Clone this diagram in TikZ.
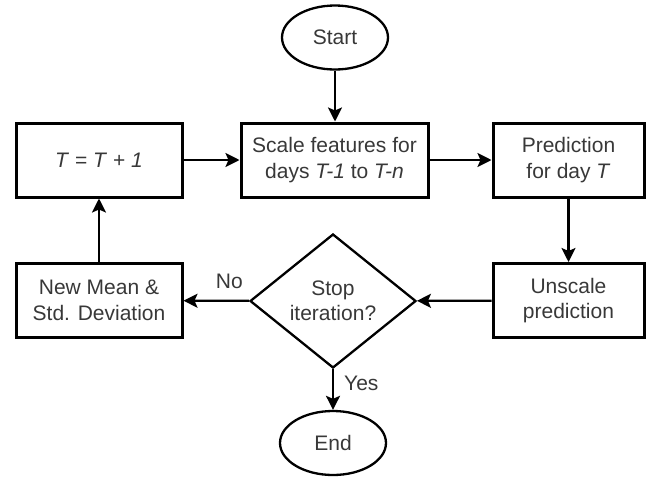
\documentclass[tikz,border=0pt]{standalone}
\usepackage{fontspec}
\setmainfont{Liberation Sans}
\usetikzlibrary{arrows.meta,shapes.geometric}
\tikzset{every picture/.style={line width=2.3pt}}
\tikzset{
  process/.style={draw, line width=3pt, minimum width=166pt, minimum height=74pt,
    inner sep=0pt, align=center, text=black!78},
  terminal/.style={draw, ellipse, minimum width=106pt, minimum height=64pt,
    inner sep=0pt, text=black!78},
  decision/.style={draw, diamond, aspect=1.24, minimum width=166pt, minimum height=134pt,
    inner sep=0pt, align=center, text=black!78},
  flow/.style={-{Stealth[length=14pt,width=14pt,inset=3pt]}},
  edgelabel/.style={text=black!78, inner sep=2pt},
}

\begin{document}
\begin{tikzpicture}[x=1pt,y=-1pt,font=\fontsize{21}{25.5}\selectfont]
    \useasboundingbox (0,0) rectangle (648,477);

    % Start and end
    \node[terminal] (start) at (335,37.5) {Start};
    \node[terminal] (end) at (333,443) {End};

    % Top row
    \node[process] (tstep) at (99,160) {\textit{T} = \textit{T} + \textit{1}};
    \node[process, minimum width=187pt] (scale) at (334.5,160)
        {Scale features for\\days \textit{T-1} to \textit{T-n}};
    \node[process, minimum width=151pt] (pred) at (568.5,160)
        {Prediction\\for day \textit{T}};

    % Bottom row
    \node[process] (newstats) at (99,300.5) {New Mean \&\\Std. Deviation};
    \node[decision] (stop) at (333,301) {Stop\\iteration?};
    \node[process, minimum width=151pt] (unscale) at (568.5,300.5)
        {Unscale\\prediction};

    % Connectors
    \draw[flow] (start) -- (start |- scale.north);
    \draw[flow] (tstep) -- (scale);
    \draw[flow] (scale) -- (pred);
    \draw[flow] (pred) -- (unscale);
    \draw[flow] (unscale) -- (stop);
    \draw[flow] (stop) -- node[edgelabel, above, pos=0.3, yshift=9pt] {No} (newstats);
    \draw[flow] (newstats) -- (tstep);
    \draw[flow] (stop) -- node[edgelabel, right, pos=0.34, xshift=8pt] {Yes} (end);
\end{tikzpicture}
\end{document}
